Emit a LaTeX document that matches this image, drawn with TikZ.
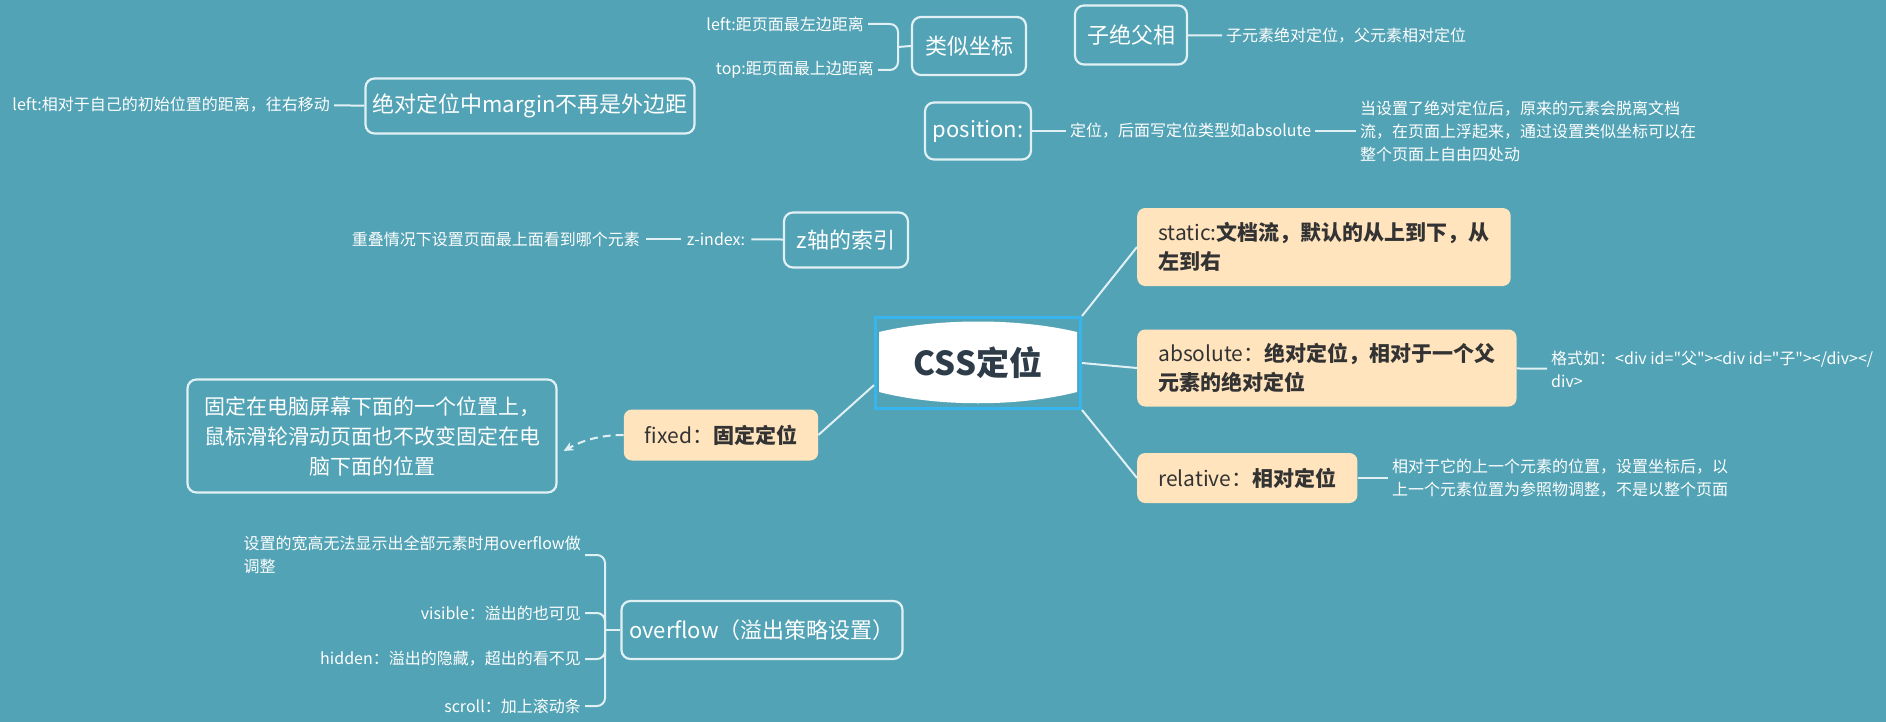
\documentclass[tikz,border=0pt]{standalone}
\usepackage{fontspec}
\setmainfont{Noto Sans CJK SC}[Ligatures=TeXOff]
\usetikzlibrary{arrows.meta}
\definecolor{bgteal}{HTML}{52A3B5}
\definecolor{linecol}{HTML}{E1F0F4}
\definecolor{peach}{HTML}{FFE4BE}
\definecolor{darktxt}{HTML}{333333}
\definecolor{cssblue}{HTML}{36B5EE}
\definecolor{csstxt}{HTML}{2E3B48}

\begin{document}
\begin{tikzpicture}[x=1pt,y=-1pt,>={Stealth[length=10pt,width=9pt]},
  note/.style={text=white,font=\fontsize{16}{23}\selectfont,inner sep=4pt},
  topicbox/.style={draw=linecol,line width=2.2pt,rounded corners=9pt,text=white,font=\fontsize{22}{30}\selectfont},
  subtopic/.style={fill=peach,rounded corners=8pt,text=darktxt,font=\fontsize{21}{29}\selectfont,anchor=west,align=left,inner xsep=21pt},
  conn/.style={draw=linecol,line width=2pt}]
  \useasboundingbox (0,0) rectangle (1886,722);
  \fill[bgteal] (0,0) rectangle (1886,722);

  \node[note,anchor=east] (lftxt) at (868,24) {left:距页面最左边距离};
  \node[note,anchor=east] (toptxt) at (878,70) {top:距页面最上边距离};
  \node[topicbox,minimum width=114pt,minimum height=58pt] (coord) at (969,46) {类似坐标};
  \coordinate (coordbrk) at (898,47);
  \draw[conn,rounded corners=8pt] (lftxt.east) -| (coordbrk) |- (toptxt.east);
  \draw[conn] (coordbrk) -- (coord.west);

  \node[topicbox,minimum width=112pt,minimum height=59pt] (zjfx) at (1131,35) {子绝父相};
  \node[note,anchor=west] (zjfxtxt) at (1222,36) {子元素绝对定位，父元素相对定位};
  \draw[conn] (zjfx) -- (zjfxtxt);

  \node[topicbox,minimum width=329pt,minimum height=55pt] (margin) at (530,106) {绝对定位中margin不再是外边距};
  \node[note,anchor=east] (margintxt) at (334,105) {left:相对于自己的初始位置的距离，往右移动};
  \draw[conn] (margintxt) -- (margin);

  \node[topicbox,minimum width=106pt,minimum height=57pt] (pos) at (978,131) {position:};
  \node[note,anchor=west] (postxt) at (1066,131) {定位，后面写定位类型如absolute};
  \node[note,anchor=west,align=left] (posnote) at (1356,131) {当设置了绝对定位后，原来的元素会脱离文档\\流，在页面上浮起来，通过设置类似坐标可以在\\整个页面上自由四处动};
  \draw[conn] (pos) -- (postxt);
  \draw[conn] (postxt) -- (posnote);

  \node[topicbox,minimum width=124pt,minimum height=55pt] (zaxis) at (846,240) {z轴的索引};
  \node[note,inner xsep=6pt] (zkey) at (716,239) {z-index:};
  \node[note,anchor=east,inner xsep=6pt] (ztxt) at (646,239) {重叠情况下设置页面最上面看到哪个元素};
  \draw[conn] (ztxt) -- (zkey);
  \draw[conn] (zkey) -- (zaxis);

  \coordinate (csspt) at (978,363);
  \fill[white,shift={(csspt)}] (-99,-31) .. controls (-40,-45) and (40,-45) .. (99,-31) -- (99,29)
    .. controls (40,44) and (-40,44) .. (-99,29) -- cycle;
  \node[draw=cssblue,line width=3pt,minimum width=205pt,minimum height=91pt,text=csstxt,
    font=\fontsize{33}{40}\selectfont\bfseries] (css) at (csspt) {CSS定位};

  \node[subtopic,minimum height=78pt] (stat) at (1137,247) {static:\textbf{文档流，默认的从上到下，从}\\\textbf{左到右}};
  \node[subtopic,minimum height=77pt] (abs) at (1137,368) {absolute：\textbf{绝对定位，相对于一个父}\\\textbf{元素的绝对定位}};
  \node[subtopic,minimum height=50pt] (rel) at (1137,478) {relative：\textbf{相对定位}};
  \node[subtopic,anchor=center,minimum height=51pt] (fix) at (721,435) {fixed：\textbf{固定定位}};
  \draw[conn] (css.north east) -- (stat.west);
  \draw[conn] (css.east) -- (abs.west);
  \draw[conn] (css.south east) -- (rel.west);
  \draw[conn] (css.192) -- (fix.east);

  \node[note,anchor=west,align=left] (abstxt) at (1547,369) {格式如：<div id="父"><div id="子"></div></\\div>};
  \draw[conn] (abs) -- (abstxt);
  \node[note,anchor=west,align=left] (reltxt) at (1388,478) {相对于它的上一个元素的位置，设置坐标后，以\\上一个元素位置为参照物调整，不是以整个页面};
  \draw[conn] (rel) -- (reltxt);

  \node[topicbox,align=center,font=\fontsize{21}{30}\selectfont,minimum width=369pt,minimum height=113pt] (fixtxt) at (372,436) {固定在电脑屏幕下面的一个位置上，\\鼠标滑轮滑动页面也不改变固定在电\\脑下面的位置};
  \draw[conn,dash pattern=on 8pt off 5pt,->] (fix.west) .. controls +(-25,0) and +(18,-10) .. ([shift={(6,15)}]fixtxt.east);

  \node[topicbox,minimum width=281pt,minimum height=58pt] (ovf) at (762,630) {overflow（溢出策略设置）};
  \coordinate (ovbrk) at (605,630);
  \node[note,anchor=east,align=left] (ovdesc) at (585,555) {设置的宽高无法显示出全部元素时用overflow做\\调整};
  \node[note,anchor=east] (ovvis) at (585,613) {visible：溢出的也可见};
  \node[note,anchor=east] (ovhid) at (585,659) {hidden：溢出的隐藏，超出的看不见};
  \node[note,anchor=east] (ovscr) at (585,706) {scroll：加上滚动条};
  \draw[conn,rounded corners=8pt] (ovdesc.east) -| (ovbrk) |- (ovscr.east);
  \draw[conn,rounded corners=8pt] (ovvis.east) -| (ovbrk);
  \draw[conn,rounded corners=8pt] (ovhid.east) -| (ovbrk);
  \draw[conn] (ovbrk) -- (ovf.west);
\end{tikzpicture}
\end{document}
